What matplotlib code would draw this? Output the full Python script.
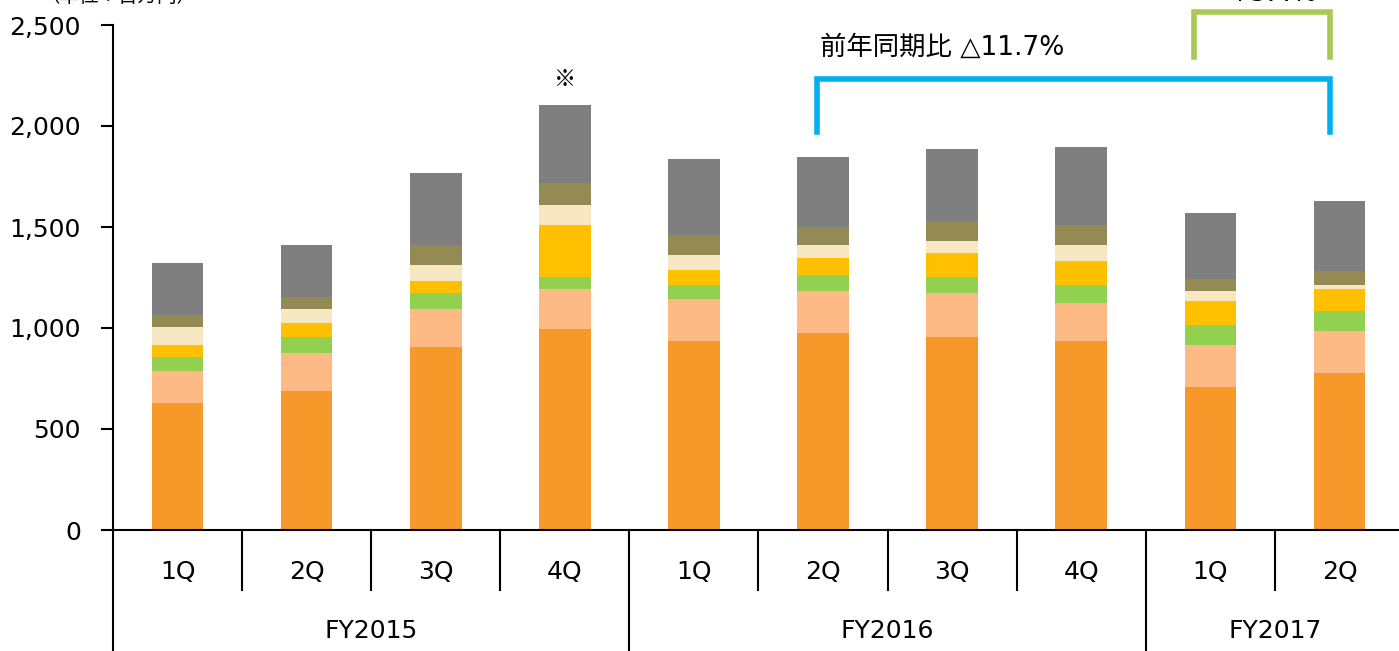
import numpy as np
import matplotlib
matplotlib.use("Agg")
import matplotlib.pyplot as plt
import matplotlib.transforms as mtrans

plt.rcParams['font.family'] = ['DejaVu Sans', 'Noto Sans CJK JP']

quarters = ['1Q', '2Q', '3Q', '4Q', '1Q', '2Q', '3Q', '4Q', '1Q', '2Q']
years = ['FY2015', 'FY2016', 'FY2017']
year_counts = [4, 4, 2]

# 各セグメント (単位：百万円) 下から順
seg_orange = [630, 690, 906, 997, 937, 975, 955, 936, 709, 779]
seg_lorange = [159, 188, 188, 198, 208, 210, 218, 188, 207, 206]
seg_green = [69, 79, 79, 57, 69, 79, 79, 89, 100, 101]
seg_yellow = [59, 68, 60, 259, 72, 84, 118, 120, 119, 107]
seg_cream = [88, 69, 77, 96, 75, 63, 61, 76, 48, 20]
seg_olive = [59, 59, 99, 109, 98, 88, 97, 99, 58, 69]
seg_gray = [256, 258, 357, 386, 376, 346, 357, 387, 327, 345]

segments = [seg_orange, seg_lorange, seg_green, seg_yellow, seg_cream, seg_olive, seg_gray]
colors = ['#F7992A', '#FDBA84', '#92D050', '#FFC000', '#F8E7C3', '#948A54', '#7F7F7F']

fig = plt.figure(figsize=(13.99, 6.51), dpi=100)
ax = fig.add_axes([113/1399, 1-530/651, 1291/1399, 505/651])

x = np.arange(len(quarters))
bottom = np.zeros(len(quarters))
for vals, c in zip(segments, colors):
    ax.bar(x, vals, width=0.4, bottom=bottom, color=c, edgecolor='none', zorder=2)
    bottom += np.array(vals)

ax.set_xlim(-0.5, len(quarters) - 0.5)
ax.set_ylim(0, 2500)
ax.set_yticks([0, 500, 1000, 1500, 2000, 2500])
ax.set_yticklabels(['0', '500', '1,000', '1,500', '2,000', '2,500'], fontsize=18)
ax.tick_params(axis='y', length=9, width=1.5, pad=14)
ax.set_xticks([])
for s in ['top', 'right']:
    ax.spines[s].set_visible(False)
ax.spines['left'].set_linewidth(1.5)
ax.spines['bottom'].set_linewidth(1.5)

# 階層ラベル
trans = mtrans.blended_transform_factory(ax.transData, ax.transAxes)
for i, q in enumerate(quarters):
    ax.text(i, -0.083, q, transform=trans, ha='center', va='center', fontsize=18)
year_bounds = np.cumsum([0] + year_counts)
for b in range(1, len(quarters)):
    if b in year_bounds:
        continue
    ax.plot([b - 0.5, b - 0.5], [0, -0.119], transform=trans, color='black', lw=1.5, clip_on=False)
for b in year_bounds:
    ax.plot([b - 0.5, b - 0.5], [0, -0.3], transform=trans, color='black', lw=1.5, clip_on=False)
for k, yname in enumerate(years):
    cx = (year_bounds[k] + year_bounds[k + 1]) / 2 - 0.5
    ax.text(cx, -0.2, yname, transform=trans, ha='center', va='center', fontsize=18)

# 比較ブラケット
ax.plot([4.95, 4.95, 8.93, 8.93], [1970, 2233, 2233, 1970], color='#00B0F0', lw=4,
        clip_on=False, solid_joinstyle='miter', zorder=3)
ax.text(5.92, 2386, '前年同期比 △11.7%', ha='center', va='center', fontsize=19)
ax.plot([7.87, 7.87, 8.93, 8.93], [2342, 2564, 2564, 2342], color='#A8C956', lw=4,
        clip_on=False, solid_joinstyle='miter', zorder=3)
ax.text(8.48, 2655, '+3.4%', ha='center', va='center', fontsize=19, clip_on=False)
ax.text(3, 2228, '※', ha='center', va='center', fontsize=16,
        family=['Noto Sans CJK JP', 'DejaVu Sans'])

fig.text(40/1399, 1 + 3/651, '（単位：百万円）', ha='left', va='center', fontsize=14,
         family=['Noto Sans CJK JP', 'DejaVu Sans'])

fig.savefig('out.png', dpi=100)
